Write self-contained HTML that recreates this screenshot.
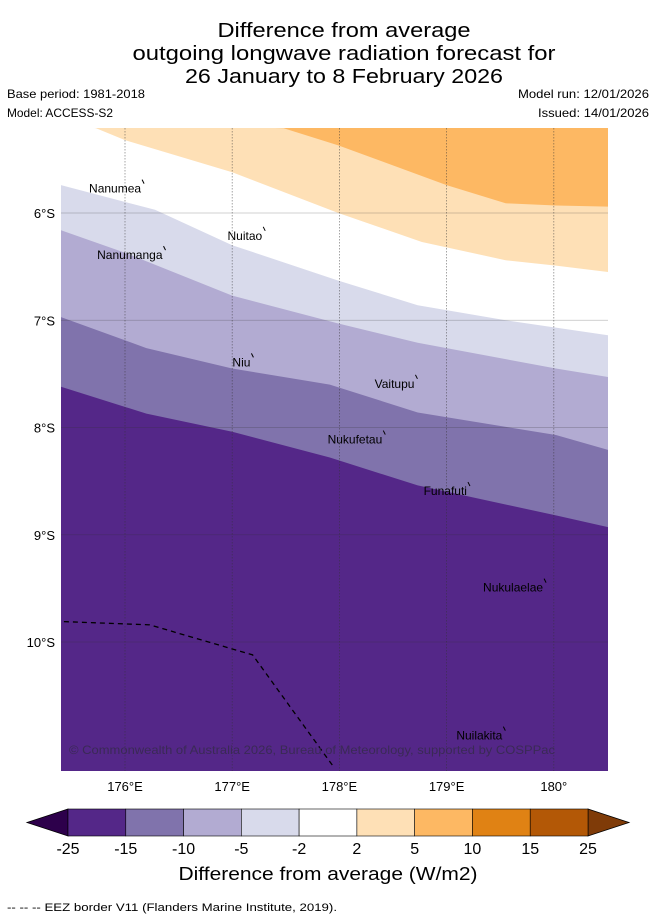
<!DOCTYPE html>
<html><head><meta charset="utf-8"><style>
html,body{margin:0;padding:0;background:#fff;}
svg{display:block;font-family:"Liberation Sans","DejaVu Sans",sans-serif;}
</style></head><body>
<svg id="chart" width="655" height="919" viewBox="0 0 655 919" xmlns="http://www.w3.org/2000/svg">
<g font-size="20" text-anchor="middle" fill="#000">
<text x="344" y="37" textLength="253" lengthAdjust="spacingAndGlyphs">Difference from average</text>
<text x="344" y="60" textLength="423" lengthAdjust="spacingAndGlyphs">outgoing longwave radiation forecast for</text>
<text x="344" y="83" textLength="318" lengthAdjust="spacingAndGlyphs">26 January to 8 February 2026</text>
</g>
<g font-size="12" fill="#000">
<text x="7" y="98" textLength="138" lengthAdjust="spacingAndGlyphs">Base period: 1981-2018</text>
<text x="7" y="117" textLength="106" lengthAdjust="spacingAndGlyphs">Model: ACCESS-S2</text>
<text x="649" y="98" text-anchor="end" textLength="131" lengthAdjust="spacingAndGlyphs">Model run: 12/01/2026</text>
<text x="649" y="117" text-anchor="end" textLength="111" lengthAdjust="spacingAndGlyphs">Issued: 14/01/2026</text>
</g>
<defs><clipPath id="mapclip"><rect x="61" y="128" width="547" height="643"/></clipPath></defs>
<g id="map" clip-path="url(#mapclip)"></g>
<g id="axes"></g>
<g id="cbar"></g>
<text x="328" y="880" font-size="18" text-anchor="middle" textLength="299" lengthAdjust="spacingAndGlyphs">Difference from average (W/m2)</text>
<text x="7" y="911" font-size="11" textLength="330" lengthAdjust="spacingAndGlyphs">--  --  -- EEZ border V11 (Flanders Marine Institute, 2019).</text>
</svg>
<script>
// data
const lonTicks = [176, 177, 178, 179, 180];
const lonLabels = ["176°E", "177°E", "178°E", "179°E", "180°"];
const latTicks = [-6, -7, -8, -9, -10];
const latLabels = ["6°S", "7°S", "8°S", "9°S", "10°S"];
const cbLevels = [-25, -15, -10, -5, -2, 2, 5, 10, 15, 25];
const cbColors = ["#542788", "#8073ac", "#b2abd2", "#d8daeb", "#ffffff", "#fee0b6", "#fdb863", "#e08214", "#b35806"];
// contour boundaries (lower edge of each band, lon/lat)
const bM15Lon = [175.40, 176.20, 177.00, 177.91, 178.73, 180.02, 180.51];
const bM15Lat = [-7.62, -7.87, -8.04, -8.28, -8.54, -8.82, -8.93];
const bM10Lon = [175.40, 176.20, 177.00, 177.91, 178.73, 180.02, 180.51];
const bM10Lat = [-6.97, -7.26, -7.45, -7.60, -7.86, -8.07, -8.21];
const bM5Lon = [175.40, 176.00, 177.00, 177.99, 178.73, 180.02, 180.51];
const bM5Lat = [-6.16, -6.37, -6.77, -7.03, -7.21, -7.45, -7.53];
const bM2Lon = [175.40, 176.28, 177.00, 177.99, 178.73, 179.55, 180.51];
const bM2Lat = [-5.74, -5.97, -6.30, -6.63, -6.86, -7.00, -7.14];
const bP2Lon = [175.73, 176.00, 177.00, 177.99, 178.77, 179.55, 180.02, 180.51];
const bP2Lat = [-5.21, -5.32, -5.62, -6.00, -6.27, -6.44, -6.49, -6.55];
const bP5Lon = [177.48, 177.99, 179.00, 179.55, 180.02, 180.51];
const bP5Lat = [-5.21, -5.37, -5.74, -5.91, -5.93, -5.94];
const eezLon = [175.43, 176.23, 177.19, 177.95];
const eezLat = [-9.81, -9.84, -10.12, -11.17];
const islandNames = ["Nanumea", "Nuitao", "Nanumanga", "Niu", "Vaitupu", "Nukufetau", "Funafuti", "Nukulaelae", "Nuilakita"];
const islandLon = [176.15, 177.28, 176.35, 177.17, 178.70, 178.40, 179.19, 179.90, 179.52];
const islandLat = [-5.81, -6.25, -6.43, -7.43, -7.63, -8.15, -8.63, -9.53, -10.91];

const NS = "http://www.w3.org/2000/svg";
const X = lon => 125 + (lon - 176) * 107.2;
const Y = lat => 213 + (-6 - lat) * 107.25;
function mk(tag, attrs, parent) {
  const e = document.createElementNS(NS, tag);
  for (const k in attrs) e.setAttribute(k, attrs[k]);
  parent.appendChild(e);
  return e;
}
const map = document.getElementById('map');
const bg = mk('rect', {x: 61, y: 128, width: 547, height: 643, fill: cbColors[0]}, map);


const bands = [[bM15Lon, bM15Lat, 1], [bM10Lon, bM10Lat, 2], [bM5Lon, bM5Lat, 3], [bM2Lon, bM2Lat, 4], [bP2Lon, bP2Lat, 5], [bP5Lon, bP5Lat, 6]];
const bandNames = ['band-minus15-minus10', 'band-minus10-minus5', 'band-minus5-minus2', 'band-minus2-plus2', 'band-plus2-plus5', 'band-plus5-plus10'];
bands.forEach((b, i) => {
  const pts = b[0].map((lon, j) => X(lon).toFixed(1) + ',' + Y(b[1][j]).toFixed(1));
  pts.push('620,120', '50,120');
  const p = mk('polygon', {points: pts.join(' '), fill: cbColors[b[2]]}, map);
  
  
});
// grid
lonTicks.forEach(t => {
  const l = mk('line', {x1: X(t), x2: X(t), y1: 128, y2: 771, stroke: '#333', 'stroke-width': 0.8, 'stroke-dasharray': '1.5,1.5', opacity: 0.55}, map);
  
  
});
latTicks.forEach(t => {
  const l = mk('line', {x1: 61, x2: 608, y1: Y(t), y2: Y(t), stroke: '#333', 'stroke-width': 0.8, opacity: 0.3}, map);
  
  
});
const eez = mk('polyline', {points: eezLon.map((lon, j) => X(lon) + ',' + Y(eezLat[j])).join(' '), fill: 'none', stroke: '#000', 'stroke-width': 1.3, 'stroke-dasharray': '5,4'}, map);


islandNames.forEach((n, i) => {
  const t = mk('text', {x: X(islandLon[i]), y: Y(islandLat[i]), 'font-size': 12, 'text-anchor': 'end', fill: '#000'}, map);
  t.textContent = n;
  
  
  const m = mk('line', {x1: X(islandLon[i]) + 1, y1: Y(islandLat[i]) - 13, x2: X(islandLon[i]) + 3, y2: Y(islandLat[i]) - 9, stroke: '#000', 'stroke-width': 1}, map);
  
  
});
const cr = mk('text', {x: 69, y: 754, 'font-size': 12, fill: '#3a2a55', textLength: 486, lengthAdjust: 'spacingAndGlyphs'}, map);
cr.textContent = '© Commonwealth of Australia 2026, Bureau of Meteorology, supported by COSPPac';


// axes labels
const axes = document.getElementById('axes');
lonTicks.forEach((t, i) => {
  const e = mk('text', {x: X(t), y: 791, 'font-size': 13, 'text-anchor': 'middle'}, axes);
  e.textContent = lonLabels[i];
  
  
});
latTicks.forEach((t, i) => {
  const e = mk('text', {x: 55, y: Y(t) + 5, 'font-size': 13, 'text-anchor': 'end'}, axes);
  e.textContent = latLabels[i];
  
  
});
// colorbar
const cb = document.getElementById('cbar');
const cbx0 = 68, cbw = 520, cby = 809, cbh = 27, segW = cbw / cbColors.length;
const lt = mk('polygon', {points: `${cbx0},${cby} 27,${cby + cbh / 2} ${cbx0},${cby + cbh}`, fill: '#2d004b', stroke: '#000', 'stroke-width': 0.8}, cb);


const rt = mk('polygon', {points: `${cbx0 + cbw},${cby} 629,${cby + cbh / 2} ${cbx0 + cbw},${cby + cbh}`, fill: '#7f3b08', stroke: '#000', 'stroke-width': 0.8}, cb);


cbColors.forEach((c, i) => {
  const r = mk('rect', {x: cbx0 + i * segW, y: cby, width: segW, height: cbh, fill: c, stroke: '#000', 'stroke-width': 0.6}, cb);
  
  
});
cbLevels.forEach((v, i) => {
  const t = mk('text', {x: cbx0 + i * segW, y: 854, 'font-size': 16, 'text-anchor': 'middle'}, cb);
  t.textContent = v;
  
  
});
</script>
</body></html>
